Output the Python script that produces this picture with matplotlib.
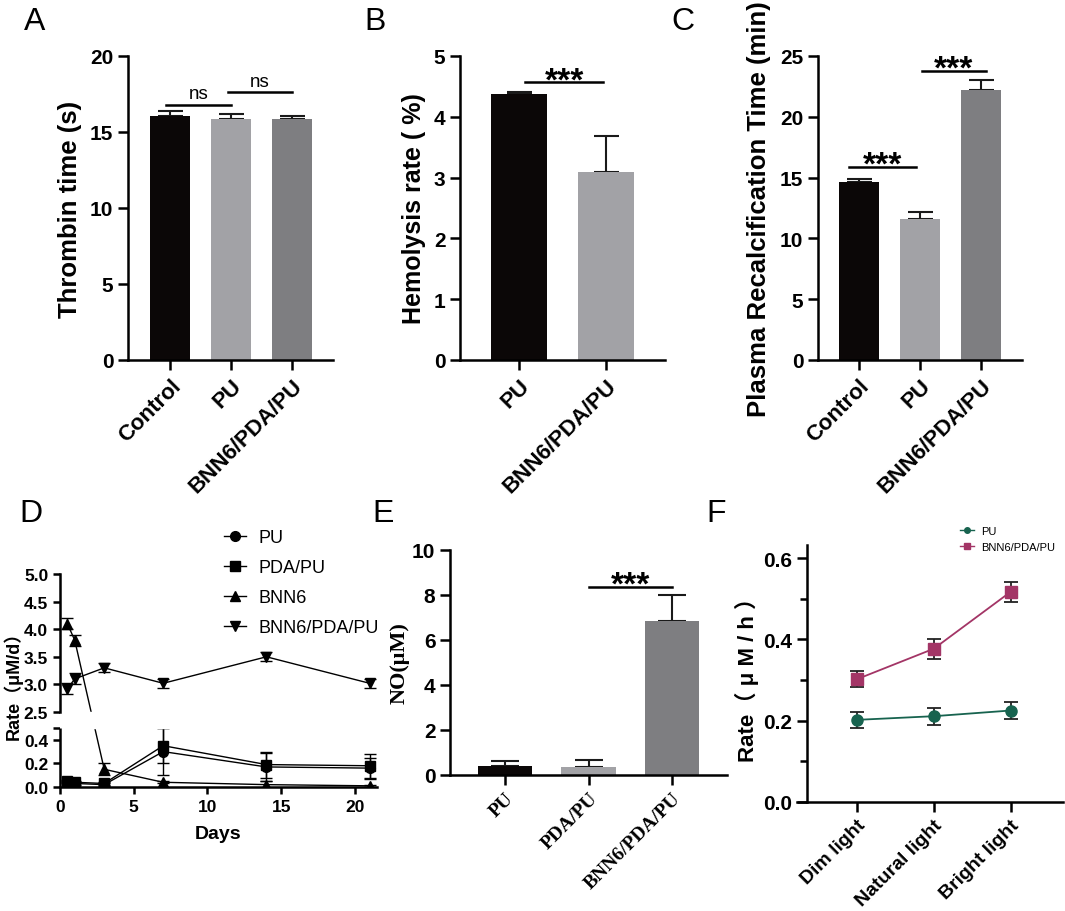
import numpy as np
import matplotlib
matplotlib.use('Agg')
import matplotlib.pyplot as plt
from matplotlib.ticker import FixedLocator, FormatStrFormatter

plt.rcParams['font.family'] = ['Liberation Sans', 'Noto Sans CJK SC', 'DejaVu Sans']
plt.rcParams['font.weight'] = 'bold'
plt.rcParams['axes.labelweight'] = 'bold'

# ---------------- data ----------------
a_groups = ['Control', 'PU', 'BNN6/PDA/PU']
a_vals = [16.05, 15.85, 15.85]
a_err = [0.35, 0.35, 0.2]

b_groups = ['PU', 'BNN6/PDA/PU']
b_vals = [4.38, 3.10]
b_err = [0.02, 0.58]

c_groups = ['Control', 'PU', 'BNN6/PDA/PU']
c_vals = [14.6, 11.6, 22.2]
c_err = [0.25, 0.6, 0.8]

d_days = [0.5, 1, 3, 7, 14, 21]
d_pu = [0.04, 0.03, 0.02, 0.30, 0.17, 0.16]
d_pu_err = [0.01, 0.01, 0.01, 0.20, 0.12, 0.09]
d_pda = [0.05, 0.04, 0.03, 0.35, 0.19, 0.18]
d_pda_err = [0.01, 0.01, 0.01, 0.15, 0.11, 0.10]
d_bnn6 = [4.10, 3.80, 0.15, 0.04, 0.02, 0.01]
d_bnn6_err = [0.10, 0.10, 0.05, 0.01, 0.03, 0.01]
d_bpp = [2.92, 3.10, 3.30, 3.02, 3.50, 3.02]
d_bpp_err = [0.10, 0.10, 0.08, 0.08, 0.08, 0.08]
d_labels = ['PU', 'PDA/PU', 'BNN6', 'BNN6/PDA/PU']

e_groups = ['PU', 'PDA/PU', 'BNN6/PDA/PU']
e_vals = [0.42, 0.36, 6.85]
e_err = [0.22, 0.31, 1.13]

f_conditions = ['Dim light', 'Natural light', 'Bright light']
f_pu = [0.202, 0.211, 0.225]
f_pu_err = [0.019, 0.021, 0.022]
f_bpp = [0.302, 0.377, 0.517]
f_bpp_err = [0.020, 0.025, 0.024]

# ---------------- figure ----------------
W, H = 1065, 912
fig = plt.figure(figsize=(W / 100, H / 100), dpi=100)

BLACK = '#0b0707'
LGRAY = '#a2a2a6'
DGRAY = '#7e7e81'
LW = 1.8


def add_ax(x0, y0, x1, y1):
    return fig.add_axes([x0 / W, 1 - y1 / H, (x1 - x0) / W, (y1 - y0) / H])


def style(ax, ysize=15):
    for s in ['top', 'right']:
        ax.spines[s].set_visible(False)
    for s in ['left', 'bottom']:
        ax.spines[s].set_linewidth(LW)
    ax.tick_params(width=LW, length=7, labelsize=ysize, direction='out')


def ylabel_at(ax, text, xcenter, box, fontsize, **kw):
    x0, y0, x1, y1 = box
    ax.set_ylabel(text, fontsize=fontsize, **kw)
    xr = xcenter + 0.55 * fontsize * 100 / 72
    ax.yaxis.set_label_coords((xr - x0) / (x1 - x0), 0.5)


def sig(ax, x0, x1, y, txt, size=24, weight='bold', off=-5):
    ax.plot([x0, x1], [y, y], color='k', lw=LW, clip_on=False)
    ax.annotate(txt, xy=((x0 + x1) / 2, y), xytext=(0, off), textcoords='offset points',
                ha='center', va='baseline', fontsize=size, fontweight=weight,
                annotation_clip=False)


def bar_panel(box, groups, vals, errs, colors, width, ylim, yticks, ylabel, lab_x, xlim, lab_fs):
    ax = add_ax(*box)
    x = np.arange(len(groups))
    ax.errorbar(x, vals, yerr=[np.zeros(len(vals)), errs], fmt='none', ecolor='#1a1a1a',
                elinewidth=1.5, capsize=9, capthick=1.5, zorder=1)
    ax.bar(x, vals, width=width, color=colors, zorder=2)
    ax.set_ylim(*ylim)
    ax.set_xlim(*xlim)
    ax.set_yticks(yticks)
    ax.set_xticks(x, groups, rotation=45, ha='right', rotation_mode='anchor')
    style(ax)
    ax.tick_params(axis='x', labelsize=16)
    ylabel_at(ax, ylabel, lab_x, box, lab_fs)
    return ax


# Panel A
boxA = (128, 57, 333, 361)
axA = bar_panel(boxA, a_groups, a_vals, a_err, [BLACK, LGRAY, DGRAY], 0.66, (0, 20),
                [0, 5, 10, 15, 20], 'Thrombin time (s)', 68, (-0.69, 2.67), 18.5)
sig(axA, -0.07, 1.0, 16.8, 'ns', size=13.5, weight='normal', off=5)
sig(axA, 0.95, 2.0, 17.6, 'ns', size=13.5, weight='normal', off=5)

# Panel B
boxB = (460, 57, 665, 361)
axB = bar_panel(boxB, b_groups, b_vals, b_err, [BLACK, LGRAY], 0.65, (0, 5),
                [0, 1, 2, 3, 4, 5], 'Hemolysis rate ( %)', 412, (-0.68, 1.68), 18)
sig(axB, 0.07, 0.97, 4.57, '***')

# Panel C
boxC = (818, 57, 1022, 361)
axC = bar_panel(boxC, c_groups, c_vals, c_err, [BLACK, LGRAY, DGRAY], 0.66, (0, 25),
                [0, 5, 10, 15, 20, 25], 'Plasma Recalcification Time (min)', 757, (-0.67, 2.67), 18.5)
sig(axC, -0.17, 0.93, 15.9, '***')
sig(axC, 1.03, 2.08, 23.8, '***')

# Panel D (broken y axis via piecewise scale)
LO, HI = 0.5, 2.5
K = 118 / 55.2
G = 16 / 55.2


def fwd(y):
    y = np.asarray(y, float)
    return np.where(y <= LO, y * K,
                    np.where(y >= HI, LO * K + G + (y - HI), LO * K + (y - LO) * G / (HI - LO)))


def inv(t):
    t = np.asarray(t, float)
    t1 = LO * K
    t2 = LO * K + G
    return np.where(t <= t1, t / K,
                    np.where(t >= t2, HI + (t - t2), LO + (t - t1) * (HI - LO) / G))


boxD = (60, 575, 377, 788)
axD = add_ax(*boxD)
axD.set_yscale('function', functions=(fwd, inv))
handles = []
for vals, errs, mk in [(d_pu, d_pu_err, 'o'), (d_pda, d_pda_err, 's'),
                       (d_bnn6, d_bnn6_err, '^'), (d_bpp, d_bpp_err, 'v')]:
    eb = axD.errorbar(d_days, vals, yerr=errs, marker=mk, color='k', ms=7, lw=1.0,
                      elinewidth=1.0, capsize=4, capthick=1.0)
    handles.append(eb[0])
axD.axhspan(0.53, 2.47, color='white', zorder=2.3)
axD.set_ylim(0, 5)
axD.set_xlim(0, 21.5)
yt = [0, 0.2, 0.4, 0.5, 2.5, 3.0, 3.5, 4.0, 4.5, 5.0]
axD.yaxis.set_major_locator(FixedLocator(yt))
axD.set_yticklabels(['0.0', '0.2', '0.4', '', '2.5', '3.0', '3.5', '4.0', '4.5', '5.0'])
axD.set_xticks([0, 5, 10, 15, 20])
style(axD, ysize=12.5)
axD.tick_params(length=5)
axD.spines['left'].set_bounds(2.5, 5.0)
axD.plot([0, 0], [0, 0.5], transform=axD.get_yaxis_transform(), color='k', lw=LW,
         clip_on=False, zorder=3, solid_capstyle='butt')
axD.set_xlabel('Days', fontsize=14, labelpad=8)
ylabel_at(axD, 'Rate（μM/d）', 13, boxD, 13)
fig.legend(handles, d_labels, loc='upper left', bbox_to_anchor=(224 / W, 1 - 530 / H),
           frameon=False, handlelength=1.2, labelspacing=0.72, handletextpad=0.7,
           borderpad=0, borderaxespad=0, prop={'size': 13, 'weight': 'normal'})

# Panel E
boxE = (450, 551, 727, 776)
axE = add_ax(*boxE)
xe = np.arange(len(e_groups))
axE.errorbar(xe, e_vals, yerr=[np.zeros(3), e_err], fmt='none', ecolor='#1a1a1a',
             elinewidth=1.5, capsize=10, capthick=1.5, zorder=1)
axE.bar(xe, e_vals, width=0.65, color=[BLACK, LGRAY, DGRAY], zorder=2)
axE.set_ylim(0, 10)
axE.set_xlim(-0.66, 2.66)
axE.set_yticks([0, 2, 4, 6, 8, 10])
axE.set_xticks(xe, e_groups, rotation=45, ha='right', rotation_mode='anchor',
               fontfamily='Liberation Serif', fontweight='bold')
style(axE, ysize=15)
axE.tick_params(axis='x', labelsize=14)
ylabel_at(axE, 'NO(μM)', 397, boxE, 16, fontfamily='Liberation Serif')
sig(axE, 1.0, 2.0, 8.36, '***')

# Panel F
boxF = (797, 546, 1063, 803)
axF = add_ax(*boxF)
xf = np.arange(len(f_conditions))
GREEN = '#17634f'
MAG = '#a33566'
axF.errorbar(xf, f_pu, yerr=f_pu_err, marker='o', color=GREEN, ms=8, lw=1.3,
             ecolor='#222222', elinewidth=1.3, capsize=5, capthick=1.3)
axF.errorbar(xf, f_bpp, yerr=f_bpp_err, marker='s', color=MAG, ms=9, lw=1.3,
             ecolor='#222222', elinewidth=1.3, capsize=5, capthick=1.3)
axF.set_xlim(-0.78, 2.68)
axF.set_ylim(0, 0.632)
axF.set_yticks([0, 0.2, 0.4, 0.6])
axF.set_yticks([0.1, 0.3, 0.5], minor=True)
axF.yaxis.set_major_formatter(FormatStrFormatter('%.1f'))
axF.set_xticks(xf, f_conditions, rotation=45, ha='right', rotation_mode='anchor')
style(axF, ysize=15)
axF.tick_params(axis='y', which='minor', width=LW, length=5)
axF.tick_params(axis='x', labelsize=14)
axF.spines['left'].set_position(('data', -0.65))
ylabel_at(axF, 'Rate（ μ M / h ）', 747, boxF, 16)
hf1 = axF.plot([], [], marker='o', color=GREEN, ms=4, lw=1.0)[0]
hf2 = axF.plot([], [], marker='s', color=MAG, ms=4, lw=1.0)[0]
fig.legend([hf1, hf2], ['PU', 'BNN6/PDA/PU'], loc='upper left',
           bbox_to_anchor=(960 / W, 1 - 527 / H), frameon=False, handlelength=1.3,
           labelspacing=0.5, handletextpad=0.6, borderpad=0, borderaxespad=0,
           prop={'size': 8, 'weight': 'normal'})

# Panel letters
for lab, xp, yp in [('A', 24, 30), ('B', 364, 30), ('C', 671, 30),
                    ('D', 19, 522), ('E', 372, 522), ('F', 706, 522)]:
    fig.text(xp / W, 1 - yp / H, lab, fontsize=23, fontweight='normal', ha='left', va='baseline')

fig.savefig('out.png', dpi=100)
